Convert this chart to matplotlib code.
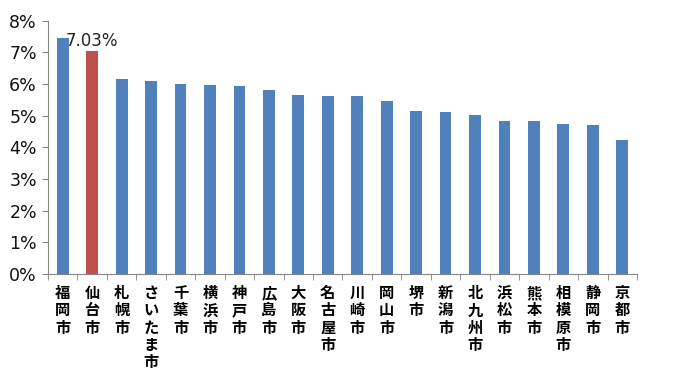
import numpy as np
import matplotlib
matplotlib.use('Agg')
import matplotlib.pyplot as plt
from matplotlib.ticker import FuncFormatter

plt.rcParams['font.family'] = ['Noto Sans CJK JP', 'DejaVu Sans']

# share per city (%)
names = ['福岡市', '仙台市', '札幌市', 'さいたま市', '千葉市', '横浜市', '神戸市',
         '広島市', '大阪市', '名古屋市', '川崎市', '岡山市', '堺市', '新潟市',
         '北九州市', '浜松市', '熊本市', '相模原市', '静岡市', '京都市']
rates = [7.44, 7.03, 6.16, 6.10, 6.01, 5.98, 5.95, 5.80, 5.66, 5.61,
         5.61, 5.45, 5.14, 5.11, 5.01, 4.83, 4.83, 4.74, 4.71, 4.23]
highlight = '仙台市'

fig = plt.figure(figsize=(6.78, 3.82), dpi=100)
ax = fig.add_axes([0.0708, 0.2827, 0.8687, 0.6633])

x = np.arange(len(names))
colors = ['#C0504D' if n == highlight else '#4F81BD' for n in names]
ax.bar(x, [r / 100 for r in rates], width=0.4, color=colors)

hi = names.index(highlight)
ax.text(hi, rates[hi] / 100 + 0.0004, '%.2f%%' % rates[hi], ha='center', va='bottom',
        fontsize=12, color='#222222', family=['DejaVu Sans'])

ax.set_xlim(-0.5, len(names) - 0.5)
ax.set_ylim(0, 0.08)
ax.set_yticks(np.arange(0, 0.081, 0.01))
ax.yaxis.set_major_formatter(FuncFormatter(lambda v, p: '%d%%' % round(v * 100)))
ax.tick_params(axis='y', labelsize=12.5, colors='#868686', labelcolor='#111111',
               length=4, pad=4)
for t in ax.get_yticklabels():
    t.set_family(['DejaVu Sans'])

ax.set_xticks(x)
ax.set_xticklabels(['\n'.join(n) for n in names], fontsize=11, linespacing=1.1,
                   va='top', color='black', weight='bold')
ax.set_xticks(np.arange(-0.5, len(names)), minor=True)
ax.tick_params(axis='x', which='major', length=0, pad=8)
ax.tick_params(axis='x', which='minor', length=4, color='#868686')

for s in ['top', 'right']:
    ax.spines[s].set_visible(False)
for s in ['left', 'bottom']:
    ax.spines[s].set_color('#868686')

fig.savefig('out.png', dpi=100)
